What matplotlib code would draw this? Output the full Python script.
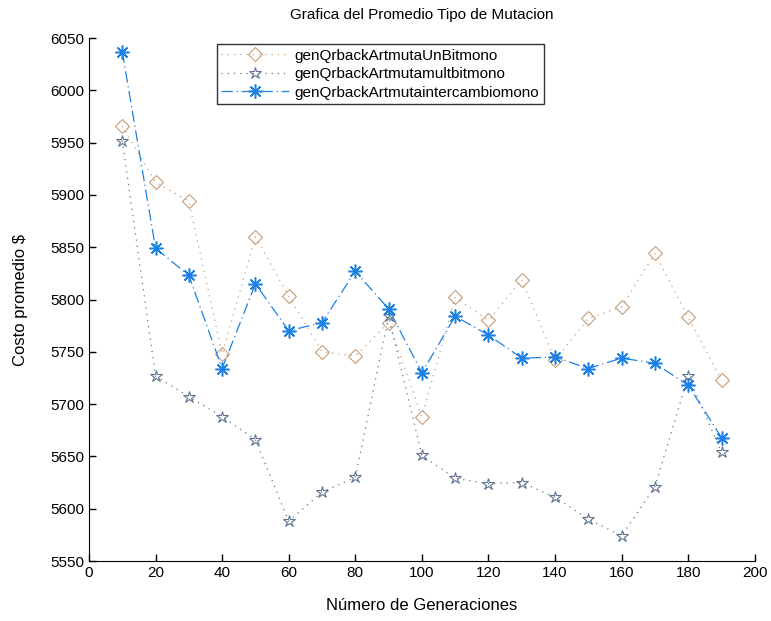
import matplotlib
matplotlib.use("Agg")
import matplotlib.pyplot as plt

# generaciones
generaciones = [10, 20, 30, 40, 50, 60, 70, 80, 90, 100,
                110, 120, 130, 140, 150, 160, 170, 180, 190]

# costo promedio por tipo de mutacion
un_bit = [5966, 5912, 5894, 5748, 5860, 5803, 5750, 5746, 5778, 5688,
          5802, 5780, 5819, 5742, 5782, 5793, 5844, 5783, 5723]
mult_bit = [5952, 5727, 5707, 5688, 5666, 5588, 5616, 5630, 5784, 5651,
            5629, 5624, 5625, 5611, 5590, 5574, 5621, 5727, 5654]
intercambio = [6037, 5849, 5823, 5734, 5815, 5770, 5778, 5827, 5791, 5730,
               5784, 5766, 5744, 5745, 5734, 5744, 5739, 5718, 5668]

labels = ["genQrbackArtmutaUnBitmono",
          "genQrbackArtmutamultbitmono",
          "genQrbackArtmutaintercambiomono"]

plt.rcParams['font.family'] = ['Liberation Sans', 'DejaVu Sans']

fig = plt.figure(figsize=(7.71, 6.21), dpi=100)
ax = fig.add_axes([0.1154, 0.0966, 0.8636, 0.8422])

c_tan = "#c49e7c"
c_gray = "#617591"
c_blue = "#1c80e4"

ax.plot(generaciones, un_bit, linestyle=(0, (1, 4)), color=c_tan, linewidth=0.9,
        marker="D", markersize=7.5, markerfacecolor="none", markeredgecolor=c_tan,
        markeredgewidth=0.8, label=labels[0])
ax.plot(generaciones, mult_bit, linestyle=(0, (1, 4)), color=c_gray, linewidth=0.9,
        marker="*", markersize=9, markerfacecolor="none", markeredgecolor=c_gray,
        markeredgewidth=0.8, label=labels[1])
ax.plot(generaciones, intercambio, linestyle=(0, (9, 3, 1, 3)), color=c_blue,
        linewidth=0.9, marker=(8, 2, 0), markersize=10, markeredgecolor=c_blue,
        markeredgewidth=1.1, label=labels[2])

ax.set_xlim(0, 200)
ax.set_ylim(5550, 6050)
ax.set_xticks(range(0, 201, 20))
ax.set_yticks(range(5550, 6051, 50))
ax.tick_params(direction="in", length=5, labelsize=11, width=1)
for s in ["top", "right"]:
    ax.spines[s].set_visible(False)

ax.set_title("Grafica del Promedio Tipo de Mutacion", fontsize=11, pad=14)
ax.set_xlabel("Número de Generaciones", fontsize=12, labelpad=13)
ax.set_ylabel("Costo promedio $", fontsize=12, labelpad=16)

leg = ax.legend(loc="upper left", bbox_to_anchor=(0.192, 0.9885), borderaxespad=0,
                fontsize=11, frameon=True, fancybox=False, edgecolor="black",
                handlelength=4.4, borderpad=0.3, labelspacing=0.3, handletextpad=0.4)
leg.get_frame().set_linewidth(1)

fig.savefig("out.png", dpi=100)
